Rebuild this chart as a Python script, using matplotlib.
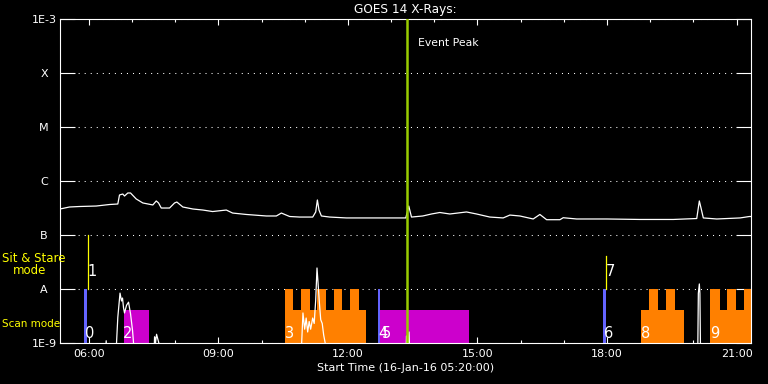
import matplotlib
matplotlib.use('Agg')
import matplotlib.pyplot as plt
from matplotlib.ticker import NullLocator, MultipleLocator

# GOES 14 long channel (1-8 A), time in hours of 16-Jan-16
goes_t = [5.333, 5.553, 5.784, 6.171, 6.480, 6.672, 6.711, 6.788, 6.827, 6.904, 6.966,
          7.098, 7.251, 7.483, 7.562, 7.615, 7.678, 7.870, 7.986, 8.039, 8.178, 8.410,
          8.642, 8.867, 9.184, 9.330, 9.648, 10.111, 10.343, 10.459, 10.651, 10.883,
          11.185, 11.254, 11.293, 11.330, 11.386, 11.578, 11.965, 12.737, 13.340, 13.363,
          13.409, 13.472, 13.734, 13.935, 14.128, 14.360, 14.746, 14.978, 15.286, 15.595,
          15.750, 15.982, 16.290, 16.445, 16.601, 16.909, 16.985, 17.296, 17.991, 18.763,
          19.534, 20.077, 20.137, 20.176, 20.229, 20.540, 21.080, 21.296, 21.333]
goes_flux = [3.03e-7, 3.30e-7, 3.37e-7, 3.44e-7, 3.67e-7, 3.75e-7, 5.51e-7, 5.74e-7, 5.27e-7,
             6.00e-7, 6.00e-7, 4.65e-7, 3.92e-7, 3.60e-7, 4.27e-7, 3.92e-7, 3.16e-7, 3.16e-7,
             3.92e-7, 4.08e-7, 3.30e-7, 3.03e-7, 2.90e-7, 2.72e-7, 2.90e-7, 2.55e-7, 2.40e-7,
             2.25e-7, 2.25e-7, 2.55e-7, 2.20e-7, 2.15e-7, 2.15e-7, 2.67e-7, 4.45e-7, 2.90e-7,
             2.25e-7, 2.15e-7, 2.07e-7, 2.07e-7, 2.07e-7, 2.45e-7, 3.44e-7, 2.15e-7, 2.25e-7,
             2.45e-7, 2.61e-7, 2.45e-7, 2.67e-7, 2.45e-7, 2.15e-7, 2.07e-7, 2.34e-7, 2.25e-7,
             1.98e-7, 2.40e-7, 1.92e-7, 1.92e-7, 2.09e-7, 1.98e-7, 1.98e-7, 1.94e-7, 1.94e-7,
             2.02e-7, 4.27e-7, 3.16e-7, 2.07e-7, 1.98e-7, 2.07e-7, 2.20e-7, 2.20e-7]

# short channel (0.5-4 A), mostly below 1E-9
short_t = [6.38, 6.403, 6.42,
           6.630, 6.642, 6.672, 6.723, 6.758, 6.781, 6.804, 6.827, 6.874, 6.920, 6.966,
           7.013, 7.036, 7.059,
           7.510, 7.523, 7.545, 7.569, 7.622, 7.635,
           10.915, 10.929, 10.959, 10.999, 11.033, 11.068, 11.103, 11.137, 11.184, 11.219,
           11.254, 11.284, 11.307, 11.335, 11.370, 11.405, 11.439, 11.474, 11.49,
           13.345, 13.356, 13.380, 13.416, 13.430,
           20.100, 20.114, 20.137, 20.150, 20.165]
short_flux = [6e-10, 1.1e-9, 6e-10,
              6e-10, 1.0e-9, 3.0e-9, 8.4e-9, 6.0e-9, 6.8e-9, 4.5e-9, 3.6e-9, 5.0e-9, 5.7e-9,
              3.5e-9, 1.7e-9, 1.0e-9, 6e-10,
              6e-10, 1.3e-9, 1.0e-9, 1.45e-9, 1.0e-9, 6e-10,
              6e-10, 1.0e-9, 3.6e-9, 1.8e-9, 2.9e-9, 1.6e-9, 2.5e-9, 1.8e-9, 2.9e-9, 2.3e-9,
              6.2e-9, 2.45e-8, 1.35e-8, 6.2e-9, 2.7e-9, 2.3e-9, 1.4e-9, 1.0e-9, 6e-10,
              6e-10, 1.35e-9, 8e-10, 1.6e-9, 6e-10,
              6e-10, 8.3e-9, 1.24e-8, 8.3e-9, 6e-10]

# observation blocks (start, end) in hours
stare_marks = [(5.900, 5.970), (12.698, 12.744), (17.905, 17.982)]
stare_lines = [5.977, 17.975]
stare_line_top = [1.0e-7, 4.1e-8]
magenta_blocks = [(6.804, 7.383), (12.744, 14.807)]
orange_blocks = [(10.535, 12.429), (18.786, 19.776), (20.385, 21.359)]
orange_towers = [(10.535, 10.727), (10.906, 11.114), (11.293, 11.502), (11.671, 11.873),
                 (12.042, 12.250), (18.971, 19.173), (19.365, 19.567), (20.385, 20.617),
                 (20.779, 20.988), (21.173, 21.359)]
event_peak = 13.379

# raster numbers
num_labels = ['0', '1', '2', '3', '4', '5', '6', '7', '8', '9']
num_t = [6.016, 6.074, 6.908, 10.651, 12.818, 12.888, 18.042, 18.088, 18.901, 20.501]
num_y = [1.53e-9, 2.09e-8, 1.53e-9, 1.53e-9, 1.53e-9, 1.53e-9, 1.53e-9, 2.09e-8, 1.53e-9, 1.53e-9]

xticks = [6, 9, 12, 15, 18, 21]
xtick_labels = ['06:00', '09:00', '12:00', '15:00', '18:00', '21:00']
yticks = [1e-9, 1e-8, 1e-7, 1e-6, 1e-5, 1e-4, 1e-3]
ytick_labels = ['1E-9', 'A', 'B', 'C', 'M', 'X', '1E-3']

W, H = 768, 384
fig = plt.figure(figsize=(W / 100, H / 100), dpi=100, facecolor='black')
ax = fig.add_axes([60 / W, 41 / H, 691 / W, 324 / H])
ax.set_facecolor('black')
ax.set_yscale('log')
ax.set_xlim(5 + 20 / 60, 21 + 20 / 60)
ax.set_ylim(1e-9, 1e-3)

floor = 1e-10
scan_top = 4.1e-9
tower_top = 1e-8

# scan mode blocks
for s, e in orange_blocks:
    ax.bar(s, scan_top - floor, width=e - s, bottom=floor, align='edge', color='#ff8000', zorder=2)
for s, e in orange_towers:
    ax.bar(s, tower_top - floor, width=e - s, bottom=floor, align='edge', color='#ff8000', zorder=2)
for s, e in magenta_blocks:
    ax.bar(s, scan_top - floor, width=e - s, bottom=floor, align='edge', color='#cc00cc', zorder=2)

# sit & stare markers
for s, e in stare_marks:
    ax.bar(s, tower_top - floor, width=e - s, bottom=floor, align='edge', color='#6464ff', zorder=2)
for t, top in zip(stare_lines, stare_line_top):
    ax.plot([t, t], [tower_top, top], color='yellow', lw=0.9, zorder=2)

# x-ray curves
ax.plot(goes_t, goes_flux, color='white', lw=0.9, zorder=3)
ax.plot(short_t, short_flux, color='white', lw=0.9, zorder=3)

# event peak
ax.axvline(event_peak, color='#99cc00', lw=1.8, zorder=4)
ax.text(13.618, 3.67e-4, 'Event Peak', color='white', fontsize=7.8, ha='left', va='center', zorder=5)

for lab, t, y in zip(num_labels, num_t, num_y):
    ax.text(t, y, lab, color='white', fontsize=10.5, ha='center', va='center', zorder=5)

# axes styling
for sp in ax.spines.values():
    sp.set_color('white')
    sp.set_linewidth(0.8)

ax.set_xticks(xticks)
ax.set_xticklabels(xtick_labels)
ax.xaxis.set_minor_locator(MultipleLocator(1))
ax.tick_params(axis='x', which='both', direction='in', top=True, bottom=True,
               colors='white', width=0.8, labelsize=8, pad=4.5)
ax.tick_params(axis='x', which='major', length=4.5)
ax.tick_params(axis='x', which='minor', length=2.3)

ax.set_yticks(yticks)
ax.set_yticklabels(ytick_labels)
ax.yaxis.set_minor_locator(NullLocator())
ax.tick_params(axis='y', which='major', direction='in', left=True, right=True,
               colors='white', width=0.8, length=10.5, labelsize=8, pad=11.5)
for lbl in ax.get_yticklabels():
    lbl.set_horizontalalignment('center')

ax.yaxis.grid(True, color='white', linestyle=(0, (1, 4.8)), linewidth=0.75)

ax.set_xlabel('Start Time (16-Jan-16 05:20:00)', color='white', fontsize=8, va='center')
ax.xaxis.set_label_coords(0.5, -(368 - 343) / 324)
ax.text(0.5, 1 + 9.5 / 324, 'GOES 14 X-Rays:', transform=ax.transAxes, color='white',
        fontsize=8.7, ha='center', va='center')

# mode labels on the left
fig.text(2 / W, 1 - 258.5 / H, 'Sit & Stare', color='yellow', fontsize=8.5, ha='left', va='center')
fig.text(13 / W, 1 - 271 / H, 'mode', color='yellow', fontsize=8.5, ha='left', va='center')
fig.text(2 / W, 1 - 324 / H, 'Scan mode', color='yellow', fontsize=7.5, ha='left', va='center')

fig.savefig('out.png', dpi=100, facecolor='black')
